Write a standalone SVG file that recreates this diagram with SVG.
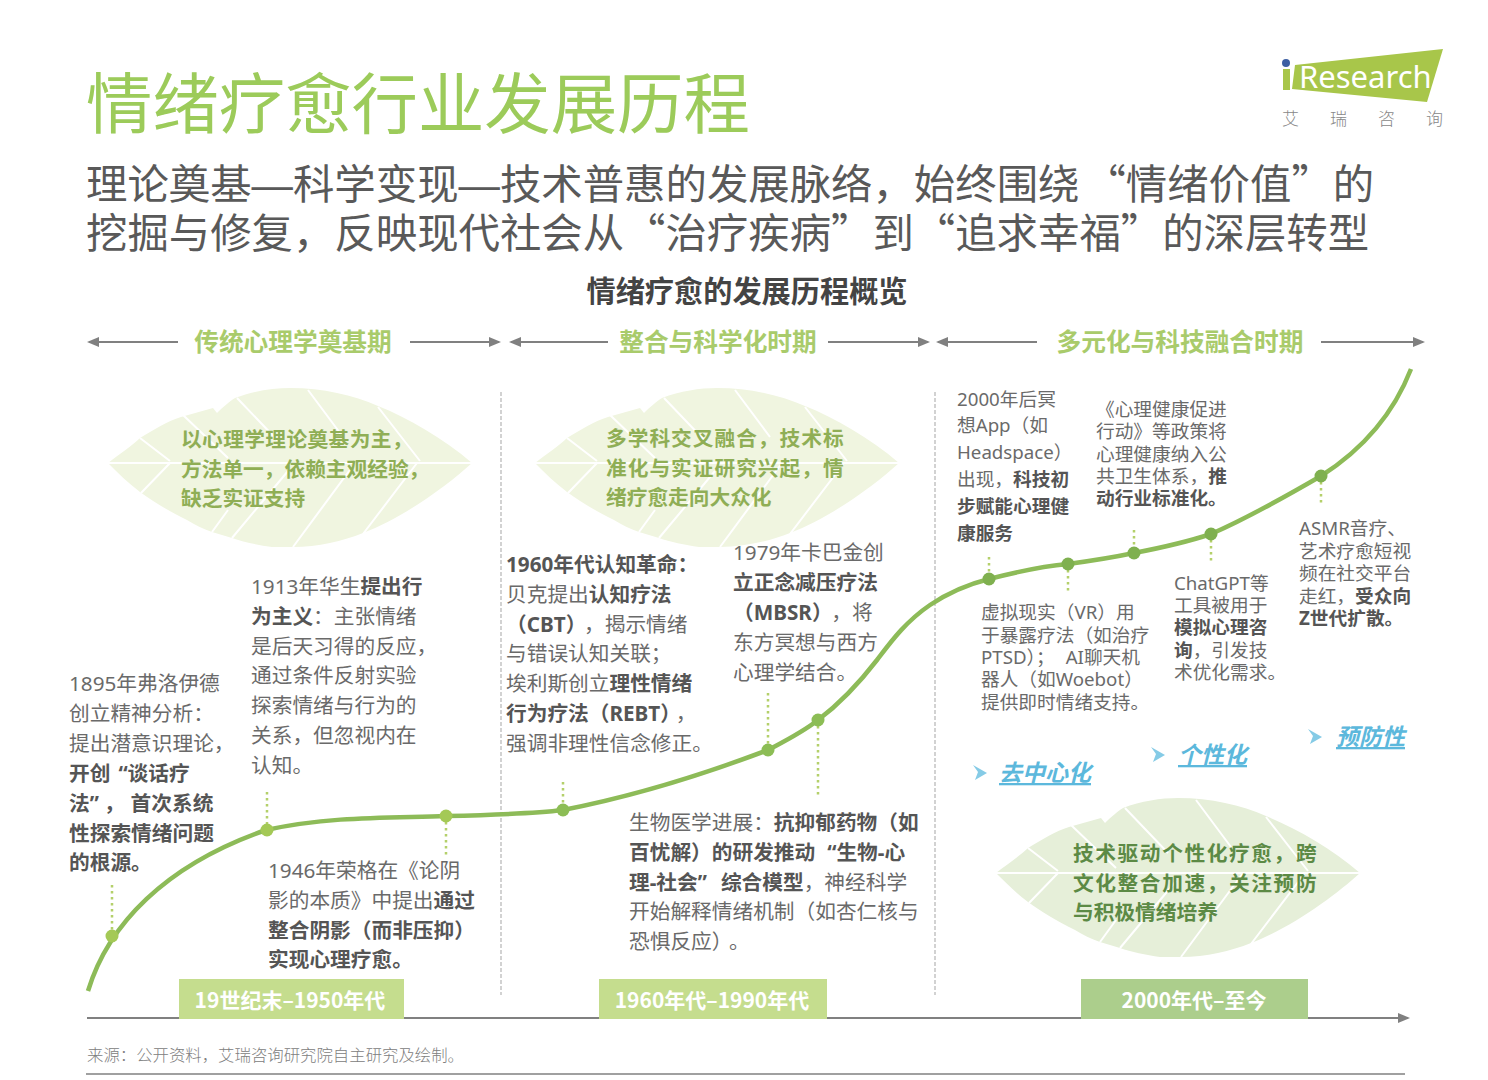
<svg xmlns="http://www.w3.org/2000/svg" width="1488" height="1080" viewBox="0 0 1488 1080">
<style>
text{font-family:"Noto Sans CJK SC","Noto Sans",sans-serif;white-space:pre}
.t,.s{font-family:"Noto Sans","Noto Sans CJK SC",sans-serif;fill:#6a6a6a;font-weight:400}
.t{font-size:20.7px}
.s{font-size:18.7px}
.b{font-weight:700;fill:#555}
.n{font-weight:400;fill:#6a6a6a}
.h{font-size:24.7px;font-weight:700;fill:#a9cb6b;text-anchor:middle}
.l1{font-size:20.7px;font-weight:700;fill:#8fae55}
.l3{font-size:20.7px;font-weight:700;fill:#5c8a45}
.d{font-size:21px;font-weight:700;fill:#fff;text-anchor:middle}
.k{font-size:23px;font-weight:700;font-style:italic;fill:#5cb8dc;text-decoration:underline}
.ar{stroke:#808080;stroke-width:2;fill:none}
.dl{stroke:#b4d06a;stroke-width:2.5;stroke-dasharray:2.5 3.5;fill:none}
.sep{stroke:#bfbfbf;stroke-width:1.4;stroke-dasharray:4 2;fill:none}
.v{stroke:#fff;stroke-width:2;fill:none}
.chev{fill:#85cbe6}
</style>
<defs>
<marker id="ah" markerWidth="12" markerHeight="10" refX="10" refY="5" orient="auto-start-reverse" markerUnits="userSpaceOnUse"><path d="M0 0L12 5L0 10z" fill="#808080"/></marker>
<path id="lf" d="M0 0C10-8 25-18 32-25C45-33 60-42 73-46L105-55L109-50C115-56 122-62 127-65C145-72 165-75 182-75C215-75 245-68 270-57C300-45 335-25 364 0C340 22 295 55 255 70C235 78 210 84 185 84L164 84C150 82 135 79 124 75L104 69C95 66 87 62 79 57C60 48 45 38 32 29C20 20 10 10 0 0z"/>
<path id="veins" d="M0 0H364M62-2L32-25M62 0L33 30M120-5L75-48M172-20L129-65M235-26L200-73M312-2L270-56M309 0L255 71M247 0L185 84M180 8L124 75M120 47L104 69"/>
</defs>

<g id="title">
<text x="86" y="128" font-size="66.4" font-weight="400" fill="#9ccb5a">情绪疗愈行业发展历程</text>
<text x="86" y="199" font-size="41.4" font-weight="400" fill="#595959">理论奠基<tspan font-family="Liberation Sans">—</tspan>科学变现<tspan font-family="Liberation Sans">—</tspan>技术普惠的发展脉络，始终围绕<tspan dx="5">“</tspan>情绪价值”的</text>
<text x="86" y="248" font-size="41.4" font-weight="400" fill="#595959">挖掘与修复，反映现代社会从“治疗疾病”到“追求幸福”的深层转型</text>
<text x="747" y="302" font-size="29.2" font-weight="700" fill="#444" text-anchor="middle">情绪疗愈的发展历程概览</text>
</g>

<g id="logo">
<path d="M1295 65L1443 49L1427 102L1292 89z" fill="#a8c64a"/>
<circle cx="1286" cy="63" r="4" fill="#3d5fa3"/>
<rect x="1283" y="69" width="7" height="21" fill="#a8c64a"/>
<text x="1299" y="88" font-size="31" font-weight="400" fill="#fff" style="font-family:'Noto Sans','Noto Sans CJK SC',sans-serif">Research</text>
<text x="1282" y="125" font-size="17" font-weight="300" fill="#888">艾</text>
<text x="1330" y="125" font-size="17" font-weight="300" fill="#888">瑞</text>
<text x="1378" y="125" font-size="17" font-weight="300" fill="#888">咨</text>
<text x="1426" y="125" font-size="17" font-weight="300" fill="#888">询</text>
</g>

<g id="connectors">
<path class="ar" d="M178 342H89" marker-end="url(#ah)"/><path class="ar" d="M410 342H499" marker-end="url(#ah)"/>
<path class="ar" d="M608 342H511" marker-end="url(#ah)"/><path class="ar" d="M828 342H928" marker-end="url(#ah)"/>
<path class="ar" d="M1037 342H938" marker-end="url(#ah)"/><path class="ar" d="M1321 342H1423" marker-end="url(#ah)"/>
<path class="ar" d="M87 1018H1408" marker-end="url(#ah)"/>
<path class="sep" d="M501 392V995M935 392V995"/>
<path d="M88 991C108 925 165 865 266 830C330 816 390 818 446 816C490 815 530 814 563 810C640 795 710 772 768 750C785 741 803 732 818 720C842 702 860 682 877 660C890 643 905 622 930 605C945 595 965 585 989 579C1020 571 1045 566 1068 564C1090 561 1115 557 1134 553C1160 548 1190 541 1211 534C1250 517 1290 494 1321 476C1365 448 1395 410 1411 369" fill="none" stroke="#8dbb58" stroke-width="4.5"/>
<path class="dl" d="M112 885V936M267 792V830M446 816V857M563 782V810M768 693V750M818 720V797M989 557V579M1068 564V592M1134 530V553M1211 534V563M1321 476V505"/>
<g fill="#a4c956"><circle cx="112" cy="936" r="6.5"/><circle cx="267" cy="830" r="6.5"/><circle cx="446" cy="816" r="6.5"/></g>
<g fill="#8cbd55"><circle cx="563" cy="810" r="6.5"/><circle cx="768" cy="750" r="6.5"/><circle cx="818" cy="720" r="6.5"/></g>
<g fill="#7fb04f"><circle cx="989" cy="579" r="6.5"/><circle cx="1068" cy="564" r="6.5"/><circle cx="1134" cy="553" r="6.5"/><circle cx="1211" cy="534" r="6.5"/><circle cx="1321" cy="476" r="6.5"/></g>
</g>

<g id="periods">
<text class="h" x="293" y="351">传统心理学奠基期</text>
<text class="h" x="718" y="351">整合与科学化时期</text>
<text class="h" x="1180" y="351">多元化与科技融合时期</text>
</g>

<g id="leaf1">
<use href="#lf" x="108" y="463" fill="#f0f5e0"/>
<use href="#veins" x="108" y="463" class="v"/>
<text class="l1" x="181" y="447" letter-spacing=".4">以心理学理论奠基为主，</text>
<text class="l1" x="181" y="477">方法单一，依赖主观经验，</text>
<text class="l1" x="181" y="506">缺乏实证支持</text>
</g>
<g id="leaf2">
<use href="#lf" x="535" y="463" fill="#f0f5e0"/>
<use href="#veins" x="535" y="463" class="v"/>
<text class="l1" x="606" y="446" letter-spacing="1">多学科交叉融合，技术标</text>
<text class="l1" x="606" y="476" letter-spacing="1">准化与实证研究兴起，情</text>
<text class="l1" x="606" y="505">绪疗愈走向大众化</text>
</g>
<g id="leaf3">
<use href="#lf" x="996" y="873" fill="#e6efd9"/>
<use href="#veins" x="996" y="873" class="v"/>
<text class="l3" x="1073" y="861" letter-spacing="1.6">技术驱动个性化疗愈，跨</text>
<text class="l3" x="1073" y="891" letter-spacing="1.6">文化整合加速，关注预防</text>
<text class="l3" x="1073" y="920">与积极情绪培养</text>
</g>

<g id="n1895"><text class="t"><tspan x="69" y="691">1895年弗洛伊德</tspan><tspan x="69" y="721">创立精神分析：</tspan><tspan x="69" y="751">提出潜意识理论，</tspan><tspan x="69" y="781" class="b">开创<tspan dx="8">“</tspan>谈话疗</tspan><tspan x="69" y="811" class="b">法”<tspan dx="5">，</tspan><tspan dx="6">首次系统</tspan></tspan><tspan x="69" y="841" class="b">性探索情绪问题</tspan><tspan x="69" y="870" class="b">的根源。</tspan></text></g>
<g id="n1913"><text class="t"><tspan x="251" y="594">1913年华生<tspan class="b">提出行</tspan></tspan><tspan x="251" y="624"><tspan class="b">为主义</tspan>：主张情绪</tspan><tspan x="251" y="654">是后天习得的反应，</tspan><tspan x="251" y="683">通过条件反射实验</tspan><tspan x="251" y="713">探索情绪与行为的</tspan><tspan x="251" y="743">关系，但忽视内在</tspan><tspan x="251" y="773">认知。</tspan></text></g>
<g id="n1946"><text class="t"><tspan x="268" y="878">1946年荣格在《论阴</tspan><tspan x="268" y="908">影的本质》中提出<tspan class="b">通过</tspan></tspan><tspan x="268" y="938" class="b">整合阴影（而非压抑）</tspan><tspan x="268" y="967" class="b">实现心理疗愈。</tspan></text></g>
<g id="n1960"><text class="t"><tspan x="506" y="572" class="b">1960年代认知革命：</tspan><tspan x="506" y="602">贝克提出<tspan class="b">认知疗法</tspan></tspan><tspan x="506" y="632" class="b">（CBT）<tspan class="n" dx="8">，揭示情绪</tspan></tspan><tspan x="506" y="661">与错误认知关联；</tspan><tspan x="506" y="691">埃利斯创立<tspan class="b">理性情绪</tspan></tspan><tspan x="506" y="721" class="b">行为疗法（REBT）<tspan class="n" dx="5">，</tspan></tspan><tspan x="506" y="751">强调非理性信念修正。</tspan></text></g>
<g id="n1979"><text class="t"><tspan x="733" y="560">1979年卡巴金创</tspan><tspan x="733" y="590"><tspan class="b">立正念减压疗法</tspan></tspan><tspan x="733" y="620" class="b">（MBSR）<tspan class="n" dx="9">，将</tspan></tspan><tspan x="733" y="650">东方冥想与西方</tspan><tspan x="733" y="680">心理学结合。</tspan></text></g>
<g id="nbio"><text class="t"><tspan x="629" y="830">生物医学进展：<tspan class="b">抗抑郁药物（如</tspan></tspan><tspan x="629" y="860"><tspan class="b">百忧解）的研发推动<tspan dx="12">“</tspan>生物-心</tspan></tspan><tspan x="629" y="890"><tspan class="b">理-社会”<tspan dx="14">综合模型</tspan></tspan>，神经科学</tspan><tspan x="629" y="919">开始解释情绪机制（如杏仁核与</tspan><tspan x="629" y="949">恐惧反应）<tspan dx="7">。</tspan></tspan></text></g>
<g id="n2000"><text class="s"><tspan x="957" y="406">2000年后冥</tspan><tspan x="957" y="432">想App（如</tspan><tspan x="957" y="459">Headspace）</tspan><tspan x="957" y="486">出现，<tspan class="b">科技初</tspan></tspan><tspan x="957" y="513" class="b">步赋能心理健</tspan><tspan x="957" y="540" class="b">康服务</tspan></text></g>
<g id="npolicy"><text class="s"><tspan x="1096" y="416">《心理健康促进</tspan><tspan x="1096" y="438">行动》等政策将</tspan><tspan x="1096" y="461">心理健康纳入公</tspan><tspan x="1096" y="483">共卫生体系，<tspan class="b">推</tspan></tspan><tspan x="1096" y="505" class="b">动行业标准化。</tspan></text></g>
<g id="nvr"><text class="s"><tspan x="981" y="619">虚拟现实（VR）用</tspan><tspan x="981" y="642">于暴露疗法（如治疗</tspan><tspan x="981" y="664">PTSD）；<tspan dx="11">AI聊天机</tspan></tspan><tspan x="981" y="686">器人（如Woebot）</tspan><tspan x="981" y="709">提供即时情绪支持。</tspan></text></g>
<g id="nchat"><text class="s"><tspan x="1174" y="590">ChatGPT等</tspan><tspan x="1174" y="612">工具被用于</tspan><tspan x="1174" y="634" class="b">模拟心理咨</tspan><tspan x="1174" y="657"><tspan class="b">询</tspan>，引发技</tspan><tspan x="1174" y="679">术优化需求。</tspan></text></g>
<g id="nasmr"><text class="s"><tspan x="1299" y="535">ASMR音疗、</tspan><tspan x="1299" y="558">艺术疗愈短视</tspan><tspan x="1299" y="580">频在社交平台</tspan><tspan x="1299" y="603">走红，<tspan class="b">受众向</tspan></tspan><tspan x="1299" y="625" class="b">Z世代扩散。</tspan></text></g>

<g id="k1"><path class="chev" d="M973 765L987 773L975 780L978 772z"/><text class="k" x="999" y="781">去中心化</text></g>
<g id="k2"><path class="chev" d="M1151 747L1165 755L1153 762L1156 754z"/><text class="k" x="1178" y="763">个性化</text></g>
<g id="k3"><path class="chev" d="M1308 729L1322 737L1310 744L1313 736z"/><text class="k" x="1336" y="745">预防性</text></g>

<g id="d1"><rect x="179" y="979" width="225" height="40" fill="#c5dd8e"/><text class="d" x="290" y="1008">19世纪末–1950年代</text></g>
<g id="d2"><rect x="599" y="979" width="228" height="40" fill="#c5dd8e"/><text class="d" x="712" y="1008">1960年代–1990年代</text></g>
<g id="d3"><rect x="1081" y="979" width="227" height="40" fill="#acce8c"/><text class="d" x="1194" y="1008">2000年代–至今</text></g>

<g id="source">
<text x="87" y="1061" font-size="16.4" font-weight="300" fill="#808080">来源：公开资料，艾瑞咨询研究院自主研究及绘制。</text>
<path d="M86 1074H1405" stroke="#808080" stroke-width="1.6"/>
</g>
</svg>
